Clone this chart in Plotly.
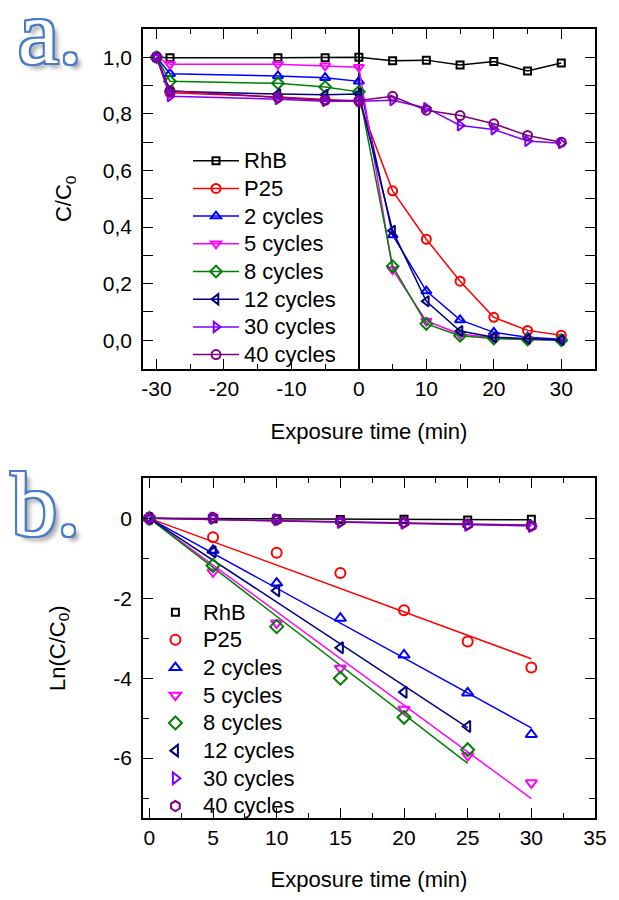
import numpy as np
import plotly.graph_objects as go

# ---- panel a: relative concentration C/C0 vs exposure time ----
time_a = [-30, -28, -12, -5, 0, 5, 10, 15, 20, 25, 30]
rhb_a = [1.0, 0.998, 0.998, 0.998, 1.0, 0.988, 0.99, 0.973, 0.985, 0.952, 0.98]
p25_a = [1.0, 0.875, 0.86, 0.85, 0.845, 0.528, 0.357, 0.209, 0.081, 0.035, 0.018]
c2_a = [1.0, 0.942, 0.934, 0.928, 0.915, 0.372, 0.174, 0.072, 0.028, 0.011, 0.004]
c5_a = [1.0, 0.975, 0.975, 0.97, 0.965, 0.25, 0.068, 0.022, 0.009, 0.004, 0.001]
c8_a = [1.0, 0.915, 0.908, 0.895, 0.878, 0.262, 0.058, 0.016, 0.006, 0.003, 0.0]
c12_a = [1.0, 0.88, 0.87, 0.868, 0.87, 0.387, 0.138, 0.033, 0.011, 0.005, 0.001]
c30_a = [1.0, 0.862, 0.852, 0.845, 0.845, 0.848, 0.821, 0.759, 0.745, 0.704, 0.696]
c40_a = [1.0, 0.882, 0.858, 0.848, 0.847, 0.862, 0.813, 0.794, 0.765, 0.724, 0.70]

# ---- panel b: Ln(C/C0) vs exposure time, with linear fits through origin ----
time_b = [0, 5, 10, 15, 20, 25, 30]
time_b25 = [0, 5, 10, 15, 20, 25]
rhb_b = [0, -0.01, -0.01, -0.03, -0.02, -0.04, -0.02]
p25_b = [0, -0.47, -0.86, -1.37, -2.30, -3.08, -3.73]
c2_b = [0, -0.80, -1.62, -2.50, -3.42, -4.37, -5.41]
c5_b = [0, -1.34, -2.62, -3.75, -4.78, -5.94, -6.62]
c8_b = [0, -1.18, -2.71, -4.00, -4.98, -5.79]
c12_b = [0, -0.84, -1.81, -3.24, -4.35, -5.21]
c30_b = [0, 0.0, -0.03, -0.10, -0.12, -0.17, -0.20]
c40_b = [0, 0.02, -0.04, -0.07, -0.10, -0.15, -0.19]

names = ["RhB", "P25", "2 cycles", "5 cycles", "8 cycles",
         "12 cycles", "30 cycles", "40 cycles"]
colors = ["#000000", "#FF0000", "#0000FF", "#FF00FF", "#008000",
          "#000080", "#8000FF", "#800080"]
symbols_a = ["square-open", "circle-open", "triangle-up-open", "triangle-down-open",
             "diamond-open", "triangle-left-open", "triangle-right-open", "circle-open"]
symbols_b = symbols_a[:-1] + ["hexagon-open"]
sizes_a = [7, 9, 9, 9, 9, 9, 9, 9]
sizes_b = [7, 10, 10, 10, 10, 10, 10, 10]

series_a = [rhb_a, p25_a, c2_a, c5_a, c8_a, c12_a, c30_a, c40_a]
series_b = [(time_b, rhb_b), (time_b, p25_b), (time_b, c2_b), (time_b, c5_b),
            (time_b25, c8_b), (time_b25, c12_b), (time_b, c30_b), (time_b, c40_b)]

# axis ticks
xa_ticks = [-30, -20, -10, 0, 10, 20, 30]
xa_minor = [-25, -15, -5, 5, 15, 25]
ya_ticks = [0.0, 0.2, 0.4, 0.6, 0.8, 1.0]
ya_minor = [-0.1, 0.1, 0.3, 0.5, 0.7, 0.9]
xb_ticks = [0, 5, 10, 15, 20, 25, 30, 35]
xb_minor = [2.5, 7.5, 12.5, 17.5, 22.5, 27.5, 32.5]
yb_ticks = [0, -2, -4, -6]
yb_minor = [-1, -3, -5, -7]

FONT = "Liberation Sans, Arial, sans-serif"
# legend entries: text drawn at 22px while row pitch follows a 19px font
LEG_ROW_FONT = 19
LEG_TEXT = '<span style="font-size:22px">{}</span>'

fig = go.Figure()

for name, col, sym, sz, ys in zip(names, colors, symbols_a, sizes_a, series_a):
    fig.add_trace(go.Scatter(
        x=time_a, y=ys, name=LEG_TEXT.format(name), mode="lines+markers",
        line=dict(color=col, width=1.5),
        marker=dict(symbol=sym, size=sz, color=col, line=dict(color=col, width=2)),
        xaxis="x", yaxis="y", legend="legend"))

for name, col, (xs, ys) in zip(names, colors, series_b):
    x = np.array(xs, dtype=float)
    y = np.array(ys, dtype=float)
    k = np.sum(x * y) / np.sum(x * x)  # least-squares slope through origin
    xf = np.array([0.0, x.max()])
    fig.add_trace(go.Scatter(
        x=xf, y=k * xf, mode="lines", line=dict(color=col, width=1.5),
        showlegend=False, hoverinfo="skip", xaxis="x2", yaxis="y2"))

for name, col, sym, sz, (xs, ys) in zip(names, colors, symbols_b, sizes_b, series_b):
    fig.add_trace(go.Scatter(
        x=xs, y=ys, name=LEG_TEXT.format(name), mode="markers",
        marker=dict(symbol=sym, size=sz, color=col, line=dict(color=col, width=2)),
        xaxis="x2", yaxis="y2", legend="legend2"))

axis_common = dict(
    showline=True, linecolor="black", linewidth=1.5, mirror="ticks",
    ticks="inside", ticklen=10, tickwidth=1.2, tickcolor="black",
    showgrid=False, zeroline=False,
    tickfont=dict(family=FONT, size=21, color="black"),
    title_font=dict(family=FONT, size=22, color="black"),
)

fig.update_layout(
    width=619, height=900,
    margin=dict(l=143, r=14, t=29, b=74),
    paper_bgcolor="white", plot_bgcolor="white",
    font=dict(family=FONT, color="black"),
    xaxis=dict(axis_common, domain=[0, 1], anchor="y", range=[-32, 35],
               tickmode="array", tickvals=xa_ticks, ticktext=[str(v) for v in xa_ticks],
               minor=dict(tickvals=xa_minor, ticklen=5, ticks="inside", tickcolor="black"),
               zeroline=True, zerolinecolor="black", zerolinewidth=1.5,
               title=dict(text="Exposure time (min)", standoff=25)),
    yaxis=dict(axis_common, domain=[0.5696, 1], anchor="x", range=[-0.1, 1.1],
               tickmode="array", tickvals=ya_ticks,
               ticktext=[f"{v:.1f}".replace(".", ",") for v in ya_ticks],
               ticklabelstandoff=5,
               minor=dict(tickvals=ya_minor, ticklen=10, ticks="inside", tickcolor="black"),
               title=dict(text="C/C<sub>0</sub>", standoff=25)),
    xaxis2=dict(axis_common, domain=[0, 1], anchor="y2", range=[-0.5, 35],
                tickmode="array", tickvals=xb_ticks, ticktext=[str(v) for v in xb_ticks],
                minor=dict(tickvals=xb_minor, ticklen=5, ticks="inside", tickcolor="black"),
                title=dict(text="Exposure time (min)", standoff=24)),
    yaxis2=dict(axis_common, domain=[0, 0.4304], anchor="x2", range=[-7.5, 1],
                tickmode="array", tickvals=yb_ticks,
                ticktext=[str(v) for v in yb_ticks],
                ticklabelstandoff=5,
                minor=dict(tickvals=yb_minor, ticklen=6, ticks="inside", tickcolor="black"),
                title=dict(text="Ln(C/C<sub>0</sub>)", standoff=42)),
    legend=dict(x=(189 - 143) / 462, y=(826 - 143) / 797, xanchor="left", yanchor="top",
                bgcolor="rgba(0,0,0,0)",
                font=dict(family=FONT, size=LEG_ROW_FONT, color="black"),
                itemwidth=46, tracegroupgap=0),
    legend2=dict(x=(148 - 143) / 462, y=(826 - 599) / 797, xanchor="left", yanchor="top",
                 bgcolor="rgba(0,0,0,0)",
                 font=dict(family=FONT, size=LEG_ROW_FONT, color="black"),
                 itemwidth=45, tracegroupgap=0),
)

# panel labels drawn as outlined letters
outline = "#4A7BC8"
shadow = ", ".join(
    [f"{dx}px {dy}px 0 {outline}" for dx in (-2, 0, 2) for dy in (-2, 0, 2) if dx or dy]
    + ["5px 5px 4px rgba(0,0,0,0.35)"])
for label, xp, yp in [("a.", (13 - 143) / 462, (826 - 32) / 797),
                      ("b.", (6 - 143) / 462, (826 - 509) / 797)]:
    fig.add_annotation(text=label, xref="paper", yref="paper", x=xp, y=yp,
                       xanchor="left", yanchor="middle", showarrow=False,
                       font=dict(family="Liberation Serif, Times New Roman, serif",
                                 size=92, color="white", shadow=shadow))

# keep the page exactly the size of the figure
page_fit = ("document.body.style.margin='0';"
            "document.documentElement.style.overflow='hidden';"
            "document.body.style.overflow='hidden';")
fig.write_html("out.html", post_script=page_fit)
